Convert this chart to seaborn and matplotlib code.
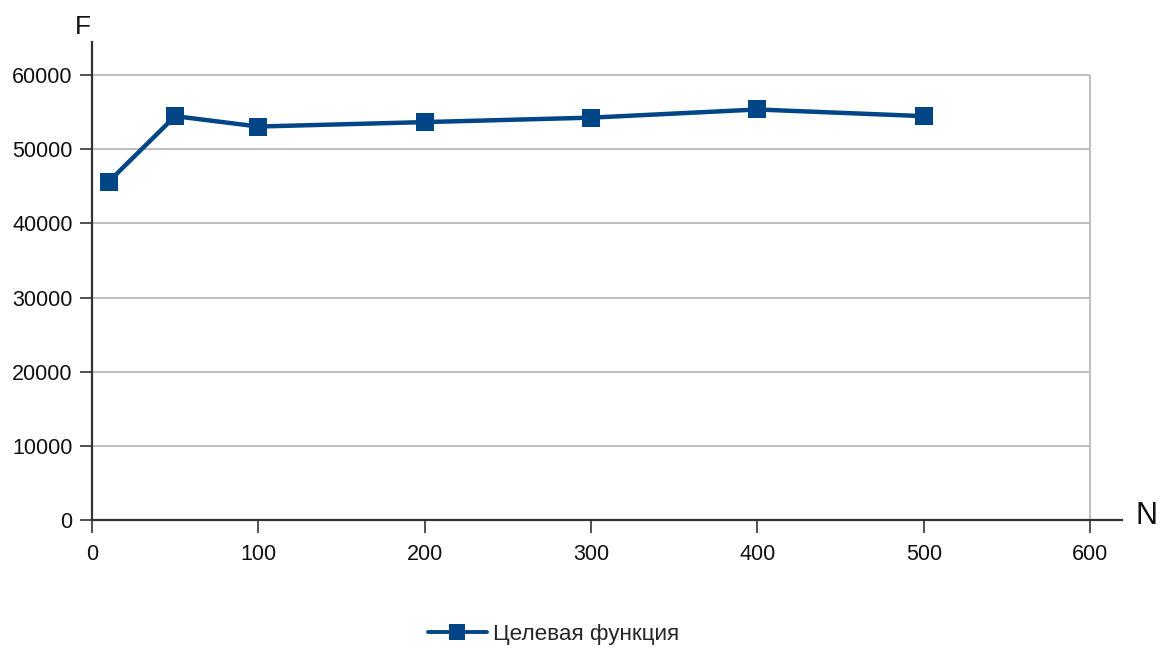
import numpy as np
import pandas as pd
import matplotlib
matplotlib.use("Agg")
import matplotlib.pyplot as plt
import seaborn as sns

# Данные
n_values = [10, 50, 100, 200, 300, 400, 500]
f_values = [45600, 54450, 53050, 53650, 54250, 55350, 54450]
series_name = "Целевая функция"
x_ticks = [0, 100, 200, 300, 400, 500, 600]
y_ticks = [0, 10000, 20000, 30000, 40000, 50000, 60000]

df = pd.DataFrame({"N": n_values, "F": f_values, "series": series_name})

sns.set_style("white")
plt.rcParams["font.family"] = ["Liberation Sans", "DejaVu Sans"]

fig = plt.figure(figsize=(11.61, 6.48), dpi=100)
ax = fig.add_axes([0.0792, 0.1975, 0.887, 0.7377])

blue = "#004586"
grid_c = "#b3b3b3"

# сетка только внутри области 0..600 x 0..60000
ax.hlines(y_ticks[1:], 0, 600, color=grid_c, lw=1.2, zorder=1)
ax.vlines(600, 0, 60000, color=grid_c, lw=1.2, zorder=1)

sns.lineplot(data=df, x="N", y="F", hue="series", palette=[blue], marker="s",
             markersize=13, markeredgewidth=0, linewidth=3.2, ax=ax, zorder=3,
             legend=True)

ax.set_xlim(0, 619)
ax.set_ylim(0, 64450)
ax.set_xticks(x_ticks)
ax.set_yticks(y_ticks)
ax.set_xticklabels([str(v) for v in x_ticks])
ax.set_yticklabels([str(v) for v in y_ticks])
ax.tick_params(axis="both", labelsize=15.5, colors="#333333", length=9, width=1.2,
               direction="out")
ax.tick_params(axis="x", pad=8)
ax.tick_params(axis="y", pad=5)
ax.tick_params(axis="both", labelcolor="#111111")
for t in ax.xaxis.get_ticklines()[2:]:
    t.set_color(grid_c)
ax.xaxis.set_ticks_position("bottom")
ax.yaxis.set_ticks_position("left")

for s in ["top", "right"]:
    ax.spines[s].set_visible(False)
for s in ["left", "bottom"]:
    ax.spines[s].set_color("#333333")
    ax.spines[s].set_linewidth(1.6)

ax.set_xlabel("")
ax.set_ylabel("")
fig.text(0.0715, 0.958, "F", fontsize=19, color="#111111", ha="center", va="center")
fig.text(0.9875, 0.203, "N", fontsize=22, color="#111111", ha="center", va="center")

handles, labels = ax.get_legend_handles_labels()
ax.get_legend().remove()
leg = fig.legend(handles, labels, loc="center", bbox_to_anchor=(0.477, 0.021),
                 frameon=False, fontsize=16.2, handlelength=2.6, handletextpad=0.3)
for h in leg.legend_handles:
    h.set_markersize(11)
    h.set_linewidth(2.8)

fig.savefig("out.png", dpi=100)
